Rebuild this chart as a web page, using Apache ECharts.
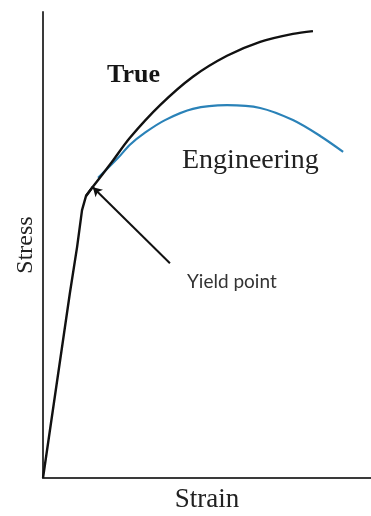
<!DOCTYPE html>
<html>
<head>
<meta charset="utf-8">
<script src="https://cdn.jsdelivr.net/npm/echarts@6/dist/echarts.min.js"></script>
<style>html,body{margin:0;padding:0;background:#fff}#c{width:371px;height:516px}</style>
</head>
<body>
<div id="c"></div>
<script>
// Normalized strain (0-100) / stress (0-100) values
const elasticPart = [[0, 0], [8.2, 39.7], [10.4, 49.6], [11.9, 57.5], [13.1, 60.5], [15.2, 62.5]];
const trueCurve = [
  [13.1, 60.5], [15.2, 62.5], [21.0, 67.8], [26.5, 73.0], [35.7, 80.0], [45.7, 86.1],
  [56.1, 90.6], [66.2, 93.6], [76.2, 95.3], [82.3, 95.9]
];
const engineeringCurve = [
  [16.8, 64.4], [22.9, 68.7], [26.5, 71.5], [31.1, 74.1], [37.2, 76.8],
  [45.7, 79.2], [56.1, 80.0], [66.2, 79.4], [76.2, 76.8], [84.5, 73.4], [91.5, 70.0]
];
const yieldArrowFrom = [38.7, 46.1];
const yieldArrowTo = [15.2, 62.4];
const labels = { x: 'Strain', y: 'Stress', trueName: 'True', engName: 'Engineering', yieldName: 'Yield point' };

const chart = echarts.init(document.getElementById('c'), null, { renderer: 'canvas' });
const axisCommon = {
  type: 'value', min: 0, max: 100,
  axisLine: { show: true, lineStyle: { color: '#3a3a3a', width: 2 } },
  axisTick: { show: false }, axisLabel: { show: false }, splitLine: { show: false }
};
chart.setOption({
  animation: false,
  backgroundColor: '#fff',
  grid: { left: 43, right: 0, top: 12, bottom: 38, containLabel: false, outerBoundsMode: 'none' },
  xAxis: Object.assign({}, axisCommon, {
    name: labels.x, nameLocation: 'middle', nameGap: 8,
    nameTextStyle: { fontFamily: 'Liberation Serif', fontSize: 27, color: '#222', verticalAlign: 'top' }
  }),
  yAxis: Object.assign({}, axisCommon, {
    name: labels.y, nameLocation: 'middle', nameGap: 5,
    nameTextStyle: { fontFamily: 'Liberation Serif', fontSize: 24, color: '#222', verticalAlign: 'bottom' }
  }),
  series: [
    {
      type: 'line', data: elasticPart, smooth: false, symbol: 'none',
      lineStyle: { color: '#111', width: 2.4 }, z: 3
    },
    {
      type: 'line', data: trueCurve, smooth: 0.3, symbol: 'none',
      lineStyle: { color: '#111', width: 2.4 }, z: 3
    },
    {
      type: 'line', data: engineeringCurve, smooth: 0.3, symbol: 'none',
      lineStyle: { color: '#2a82b8', width: 2.2 }, z: 2
    },
    {
      type: 'line', data: [], symbol: 'none',
      markLine: {
        silent: true, symbol: ['none', 'arrow'], symbolSize: [8, 9],
        label: { show: false },
        lineStyle: { color: '#111', width: 2, type: 'solid' },
        data: [[{ coord: yieldArrowFrom }, { coord: yieldArrowTo }]]
      }
    }
  ],
  graphic: [
    { type: 'text', left: 107, top: 62, style: { text: labels.trueName, font: 'bold 26px "Liberation Serif"', fill: '#151515' } },
    { type: 'text', left: 182, top: 147, style: { text: labels.engName, font: '28px "Liberation Serif"', fill: '#222' } },
    { type: 'text', left: 187, top: 272, style: { text: labels.yieldName, font: '19px Lato', fill: '#333' } }
  ]
});
</script>
</body>
</html>
